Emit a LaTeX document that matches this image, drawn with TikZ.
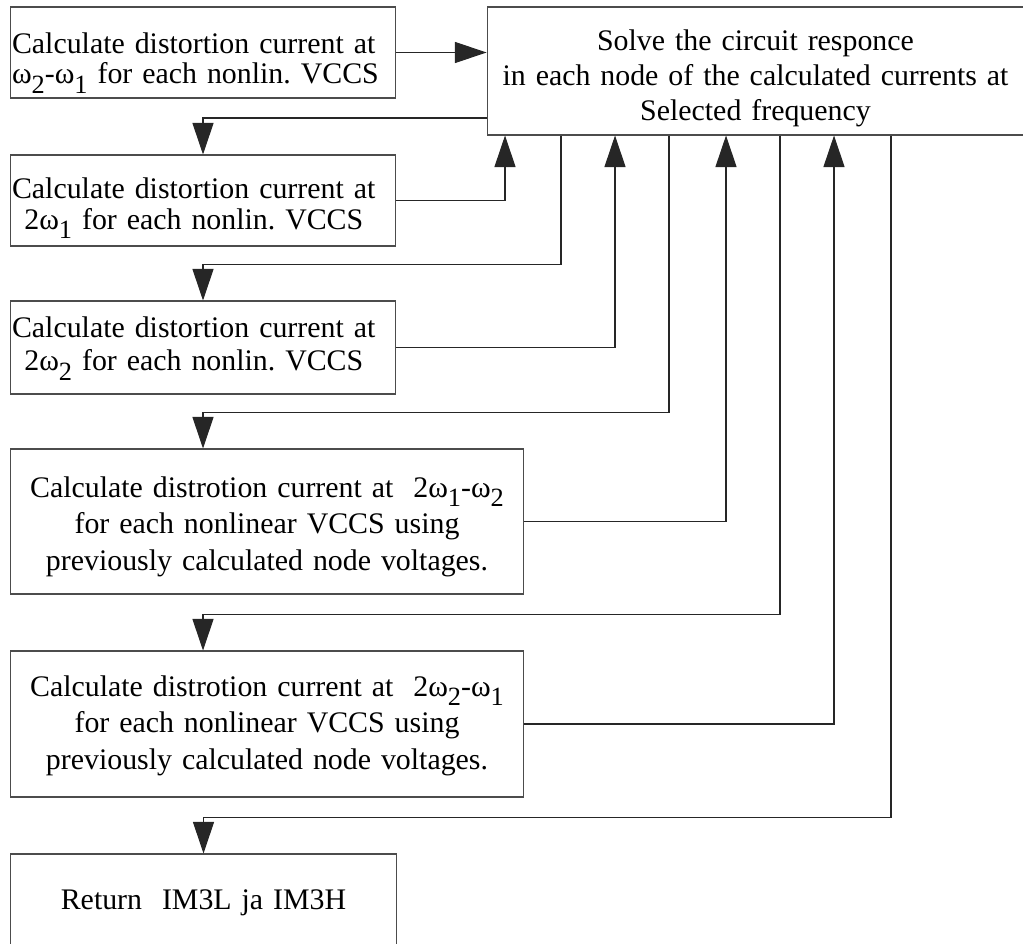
\documentclass[tikz,border=0pt]{standalone}
\usepackage{fontspec}
\setmainfont{Liberation Serif}
\usetikzlibrary{arrows.meta}
\frenchspacing
\newcommand{\lowidx}[1]{\raisebox{-5.5pt}{\fontsize{15}{15}\selectfont #1}}
\newcommand{\upstrut}[1]{\rule{0pt}{#1}}
\newcommand{\downstrut}[1]{\rule[-#1]{0pt}{0pt}}

\begin{document}
\begin{tikzpicture}[x=0.02cm, y=-0.02cm,
    box/.style={draw=black!70, line width=0.6pt, rectangle, inner xsep=0.04cm, inner ysep=0pt,
      font=\fontsize{17}{17.3}\selectfont},
    stepbox/.style={box, text width=7.64cm, align=left},
    widebox/.style={box, text width=10.2cm, align=center, font=\fontsize{17}{21}\selectfont},
    flow/.style={draw=black!85, line width=0.6pt, -{Triangle[length=18pt,width=12pt]}}]
    \useasboundingbox (0,0) rectangle (1023,943);
    % Draw the solver box
    \node[box, text width=10.66cm, align=center, minimum height=2.56cm,
      font=\fontsize{17}{20.1}\selectfont] (solve) at (755.5,71)
      {\upstrut{24.4pt}Solve the circuit responce\\
       in each node of the calculated currents at\\
       Selected frequency\downstrut{7.9pt}};
    % Draw the distortion current boxes
    \node[stepbox, minimum height=1.82cm] (calcA) at (203,52.5)
      {\upstrut{26.1pt}Calculate distortion current at\\
       ω\lowidx{2}-ω\lowidx{1} for each nonlin. VCCS\downstrut{8.2pt}};
    \node[stepbox, minimum height=1.82cm] (calcB) at (203,200.5)
      {\upstrut{24.9pt}Calculate distortion current at\\
       \hspace*{7pt}2ω\lowidx{1} for each nonlin. VCCS\downstrut{9.4pt}};
    \node[stepbox, minimum height=1.86cm] (calcC) at (203,347.5)
      {\upstrut{20.4pt}Calculate distortion current at\\[2pt]
       \hspace*{7pt}2ω\lowidx{2} for each nonlin. VCCS\downstrut{13pt}};
    \node[widebox, minimum height=2.9cm] (calcD) at (267,521.5)
      {\upstrut{27.2pt}Calculate distrotion current at~ 2ω\lowidx{1}-ω\lowidx{2}\\
       for each nonlinear VCCS using\\
       previously calculated node voltages.\downstrut{13pt}};
    \node[widebox, minimum height=2.92cm] (calcE) at (267,724)
      {\upstrut{25.5pt}Calculate distrotion current at~ 2ω\lowidx{2}-ω\lowidx{1}\\
       for each nonlinear VCCS using\\
       previously calculated node voltages.\downstrut{15.3pt}};
    % Draw the return box (cut off at the bottom)
    \node[box, text width=7.66cm, align=center, minimum height=2cm] (ret) at (203.5,904)
      {\upstrut{31.7pt}Return~ IM3L ja IM3H\downstrut{25pt}};
    % Mark the taps on the solver box
    \coordinate (tap0) at (solve.west |- 0,118);
    \foreach \i/\tx in {1/505, 2/561, 3/615, 4/669, 5/726, 6/780, 7/834, 8/891}
      \coordinate (tap\i) at (solve.south -| \tx,0);
    % Draw the connectors
    \draw[flow] (calcA.east) -- (calcA.east -| solve.west);
    \draw[flow] (tap0) -| (calcB.north);
    \draw[flow] (calcB.east) -| (tap1);
    \draw[flow] (tap2) -- ++(0,129) -| (calcC.north);
    \draw[flow] (calcC.east) -| (tap3);
    \draw[flow] (tap4) -- ++(0,277) -| (calcB.north |- calcD.north);
    \draw[flow] (calcD.east) -| (tap5);
    \draw[flow] (tap6) -- ++(0,479) -| (calcB.north |- calcE.north);
    \draw[flow] (calcE.east) -| (tap7);
    \draw[flow] (tap8) -- ++(0,682) -| (ret.north);
\end{tikzpicture}
\end{document}
